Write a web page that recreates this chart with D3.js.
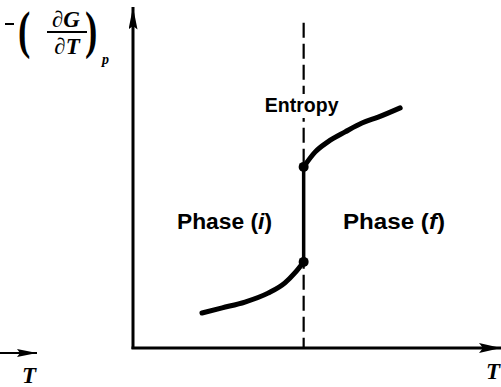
<!DOCTYPE html>
<html>
<head>
<meta charset="utf-8">
<script src="https://cdn.jsdelivr.net/npm/d3@7/dist/d3.min.js"></script>
<style>
  html, body { margin: 0; padding: 0; background: #fff; }
  svg { display: block; }
  .lbl { font-family: "Liberation Sans", Arial, sans-serif; font-weight: bold; fill: #000; }
  .math { font-family: "Liberation Serif", "DejaVu Serif", serif; font-weight: bold; fill: #000; }
</style>
</head>
<body>
<svg id="chart" width="501" height="387"></svg>
<script>
// Temperature (T) and entropy -(dG/dT)_p, in arbitrary units
const transitionT = 46.5;

const phaseI_T = [18.8, 24.3, 30.5, 36.8, 41.4, 44.1, 46.5];
const phaseI_S = [10.2, 11.7, 13.4, 16.0, 19.0, 21.9, 25.1];

const phaseF_T = [46.5, 49.6, 53.1, 57.8, 62.4, 66.8, 72.8];
const phaseF_S = [52.8, 57.1, 60.1, 63.0, 65.6, 67.3, 70.0];

const dashedTop = 94.8;

const regionLabels = ["Phase", "Phase"];
const regionTags = ["i", "f"];

const svg = d3.select("#chart");

const x = d3.scaleLinear().domain([0, 100]).range([133, 500]);
const y = d3.scaleLinear().domain([0, 100]).range([348, 5]);

// Arrowheads
const defs = svg.append("defs");
defs.append("marker")
  .attr("id", "arrowY").attr("viewBox", "0 0 10 25")
  .attr("refX", 5).attr("refY", 0)
  .attr("markerWidth", 9).attr("markerHeight", 24)
  .attr("markerUnits", "userSpaceOnUse")
  .attr("orient", "0")
  .append("path").attr("d", "M5,0 L10,25 L5,21 L0,25 Z").attr("fill", "#000");
defs.append("marker")
  .attr("id", "arrowX").attr("viewBox", "0 0 22 10")
  .attr("refX", 22).attr("refY", 5)
  .attr("markerWidth", 22).attr("markerHeight", 10)
  .attr("markerUnits", "userSpaceOnUse")
  .attr("orient", "0")
  .append("path").attr("d", "M22,5 L0,0 L4,5 L0,10 Z").attr("fill", "#000");
defs.append("marker")
  .attr("id", "arrowSmall").attr("viewBox", "0 0 20 8")
  .attr("refX", 20).attr("refY", 4)
  .attr("markerWidth", 20).attr("markerHeight", 8)
  .attr("markerUnits", "userSpaceOnUse")
  .attr("orient", "0")
  .append("path").attr("d", "M20,4 L0,0 L3,4 L0,8 Z").attr("fill", "#000");

// Axes
svg.append("line")
  .attr("x1", x(0)).attr("y1", y(0) + 1)
  .attr("x2", x(0)).attr("y2", y(100) + 2)
  .attr("stroke", "#000").attr("stroke-width", 3)
  .attr("marker-end", "url(#arrowY)");
svg.append("line")
  .attr("x1", x(0) - 1.5).attr("y1", y(0))
  .attr("x2", x(100) + 1).attr("y2", y(0))
  .attr("stroke", "#000").attr("stroke-width", 3)
  .attr("marker-end", "url(#arrowX)");

// Transition temperature
svg.append("line")
  .attr("x1", x(transitionT)).attr("y1", y(dashedTop))
  .attr("x2", x(transitionT)).attr("y2", y(0))
  .attr("stroke", "#000").attr("stroke-width", 2.2)
  .attr("stroke-dasharray", "15,6");

// White knock-out behind the Entropy label
svg.append("rect")
  .attr("x", x(transitionT) - 40).attr("y", 94)
  .attr("width", 80).attr("height", 24).attr("fill", "#fff");

const line = d3.line()
  .x(d => x(d[0])).y(d => y(d[1]))
  .curve(d3.curveMonotoneX);

const lowBranch = phaseI_T.map((t, i) => [t, phaseI_S[i]]);
const highBranch = phaseF_T.map((t, i) => [t, phaseF_S[i]]);

svg.append("path").attr("d", line(lowBranch))
  .attr("fill", "none").attr("stroke", "#000")
  .attr("stroke-width", 5).attr("stroke-linecap", "round");
svg.append("path").attr("d", line(highBranch))
  .attr("fill", "none").attr("stroke", "#000")
  .attr("stroke-width", 5).attr("stroke-linecap", "round");

// Entropy jump at the transition
const jumpLow = phaseI_S[phaseI_S.length - 1];
const jumpHigh = phaseF_S[0];
svg.append("line")
  .attr("x1", x(transitionT)).attr("y1", y(jumpLow))
  .attr("x2", x(transitionT)).attr("y2", y(jumpHigh))
  .attr("stroke", "#000").attr("stroke-width", 3.5);

svg.selectAll("circle.end")
  .data([[transitionT, jumpLow], [transitionT, jumpHigh]])
  .join("circle").attr("class", "end")
  .attr("cx", d => x(d[0])).attr("cy", d => y(d[1]))
  .attr("r", 5).attr("fill", "#000");

// Labels
svg.append("text").attr("class", "lbl")
  .attr("x", x(transitionT) - 2).attr("y", 112)
  .attr("text-anchor", "middle")
  .style("font-size", "19.5px")
  .text("Entropy");

const regionX = [177, 343];
const regionW = [95, 102];
regionLabels.forEach((lab, i) => {
  const t = svg.append("text").attr("class", "lbl")
    .attr("x", regionX[i]).attr("y", 229)
    .attr("textLength", regionW[i]).attr("lengthAdjust", "spacingAndGlyphs")
    .style("font-size", "22px");
  t.append("tspan").text(lab + " (");
  t.append("tspan").style("font-style", "italic").text(regionTags[i]);
  t.append("tspan").text(")");
});

// Y-axis title: -(dG/dT)_p
const yt = svg.append("g");
yt.append("line")
  .attr("x1", 5).attr("x2", 14).attr("y1", 24).attr("y2", 24)
  .attr("stroke", "#000").attr("stroke-width", 2);
yt.append("text").attr("class", "math")
  .attr("transform", "translate(18,48) scale(1,1.42)")
  .style("font-size", "37px").text("(");
yt.append("text").attr("class", "math")
  .attr("transform", "translate(85,48) scale(1,1.42)")
  .style("font-size", "37px").text(")");
yt.append("text").attr("class", "math")
  .attr("x", 66).attr("y", 27).attr("text-anchor", "middle")
  .style("font-size", "23px").style("font-style", "italic").text("\u2202G");
yt.append("line")
  .attr("x1", 47).attr("x2", 87).attr("y1", 32).attr("y2", 32)
  .attr("stroke", "#000").attr("stroke-width", 2);
yt.append("text").attr("class", "math")
  .attr("x", 67).attr("y", 54).attr("text-anchor", "middle")
  .style("font-size", "23px").style("font-style", "italic").text("\u2202T");
yt.append("text").attr("class", "math")
  .attr("x", 102).attr("y", 64).style("font-size", "14px")
  .style("font-style", "italic").text("p");

// Small temperature arrow at lower left
svg.append("line")
  .attr("x1", 0).attr("y1", 353).attr("x2", 37).attr("y2", 353)
  .attr("stroke", "#000").attr("stroke-width", 2)
  .attr("marker-end", "url(#arrowSmall)");
svg.append("text").attr("class", "math")
  .attr("x", 22).attr("y", 383).style("font-size", "23px")
  .style("font-style", "italic").text("T");

// X-axis title
svg.append("text").attr("class", "math")
  .attr("x", 486).attr("y", 379).style("font-size", "23px")
  .style("font-style", "italic").text("T");
</script>
</body>
</html>
